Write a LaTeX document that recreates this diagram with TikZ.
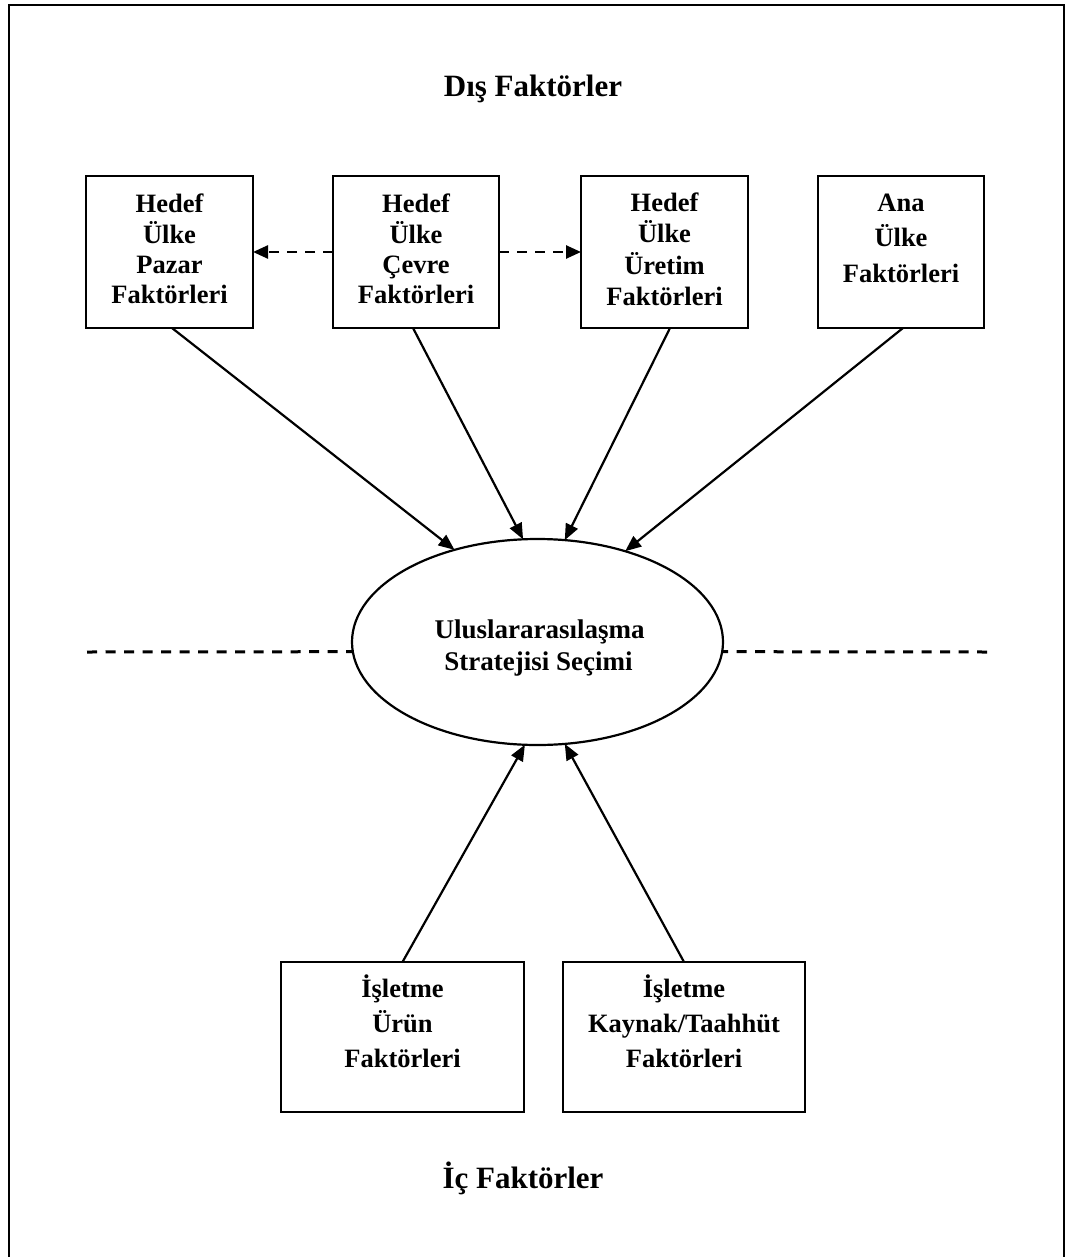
\documentclass[tikz,border=0pt]{standalone}
\usepackage{fontspec}
\setmainfont{Liberation Serif}
\usetikzlibrary{arrows.meta,shapes.geometric,calc}

% one labelled line per node: name, x, first baseline, line step, lines
\newcommand{\factorlines}[5]{%
  \foreach \w [count=\i] in {#5}
    \node[boxtext] (#1-\i) at ({#2},{#3+#4*(\i-1)}) {\w};%
}

\begin{document}
\begin{tikzpicture}[x=1pt,y=-1pt,
  every node/.style={inner sep=0pt, outer sep=0pt},
  factorbox/.style={draw, line width=2.2pt},
  boxtext/.style={font=\fontsize{26.5}{30}\selectfont\bfseries, anchor=base},
  heading/.style={font=\fontsize{31}{36}\selectfont\bfseries, anchor=base},
  link/.style={line width=2.2pt, -{Triangle[length=16pt,width=13pt]}},
  sidelink/.style={line width=2.5pt, dash pattern=on 10pt off 8pt,
                   -{Triangle[length=15pt,width=13pt]}},
  separator/.style={line width=3pt, dash pattern=on 10pt off 8.5pt},
]
\useasboundingbox (0,0) rectangle (1069,1257);

% outer frame, open at the bottom
\draw[line width=2.8pt] (9,1275) -- (9,5) -- (1064,5) -- (1064,1275);

% headings
\node[heading] (external) at (533,97) {Dış Faktörler};
\node[heading] (internal) at (523,1188) {İç Faktörler};

% external factor boxes
\node[factorbox, minimum width=167pt, minimum height=152pt] (hp) at (169.5,252) {};
\node[factorbox, minimum width=166pt, minimum height=152pt] (hc) at (416,252) {};
\node[factorbox, minimum width=167pt, minimum height=152pt] (hu) at (664.5,252) {};
\node[factorbox, minimum width=166pt, minimum height=152pt] (ha) at (901,252) {};

\factorlines{hpt}{169.5}{213}{30.3}{Hedef,Ülke,Pazar,Faktörleri}
\factorlines{hct}{416}{213}{30.3}{Hedef,Ülke,Çevre,Faktörleri}
\factorlines{hut}{664.5}{212}{31}{Hedef,Ülke,Üretim,Faktörleri}
\factorlines{hat}{901}{212}{35}{Ana,Ülke,Faktörleri}

% internal factor boxes
\node[factorbox, minimum width=243pt, minimum height=150pt] (ip) at (402.5,1037) {};
\node[factorbox, minimum width=242pt, minimum height=150pt] (ik) at (684,1037) {};

\factorlines{ipt}{402.5}{997}{35}{İşletme,Ürün,Faktörleri}
\factorlines{ikt}{684}{997}{35}{İşletme,Kaynak/Taahhüt,Faktörleri}

% central decision
\node[ellipse, draw, line width=2.2pt, minimum width=371pt, minimum height=206pt] (ell) at (537.5,642) {};
\node[boxtext, font=\fontsize{27}{30}\selectfont\bfseries] (ell-1) at (539.5,638) {Uluslararasılaşma};
\node[boxtext, font=\fontsize{27}{30}\selectfont\bfseries] (ell-2) at (538.5,670) {Stratejisi Seçimi};

% dashed separator between external and internal factors
\coordinate (sepL) at (87,652);
\coordinate (sepR) at (987,652);
\draw[separator] (sepL) -- (ell.183);
\draw[separator] (sepR) -- (ell.-3);

% influences between the external boxes
\draw[sidelink] (hc.west) -- (hp.east);
\draw[sidelink] (hc.east) -- (hu.west);

% influences on the decision
\draw[link] ($(hp.south)+(2.5,0)$) -- (ell.132.5);
\draw[link] ($(hc.south)+(-3,0)$) -- (ell.98.75);
\draw[link] ($(hu.south)+(5.5,0)$) -- (ell.75.4);
\draw[link] ($(ha.south)+(2,0)$) -- (ell.46.5);
\draw[link] (ip.north) -- (ell.-97.7);
\draw[link] (ik.north) -- (ell.-75.4);
\end{tikzpicture}
\end{document}
